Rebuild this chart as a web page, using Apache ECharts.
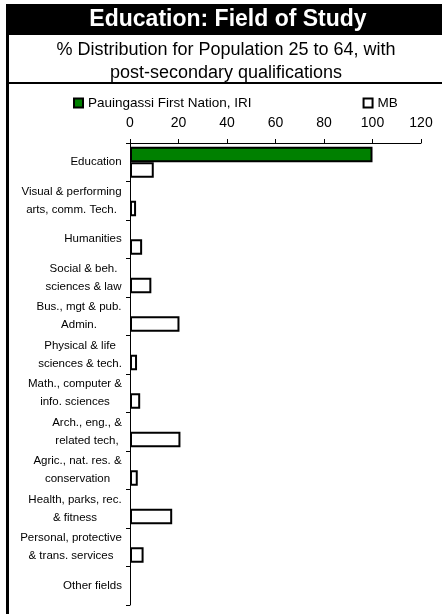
<!DOCTYPE html>
<html>
<head>
<meta charset="utf-8">
<script src="https://cdn.jsdelivr.net/npm/echarts@6/dist/echarts.min.js"></script>
<style>
html, body { margin: 0; padding: 0; background: #fff; }
#chart { width: 442px; height: 614px; }
</style>
</head>
<body>
<div id="chart"></div>
<script>
var categories = [
  'Education',
  'Visual & performing\narts, comm. Tech.',
  'Humanities',
  'Social & beh.\nsciences & law',
  'Bus., mgt & pub.\nAdmin.',
  'Physical & life\nsciences & tech.',
  'Math., computer &\ninfo. sciences',
  'Arch., eng., &\nrelated tech,',
  'Agric., nat. res. &\nconservation',
  'Health, parks, rec.\n& fitness',
  'Personal, protective\n& trans. services',
  'Other fields'
];
var seriesNames = ['Pauingassi First Nation, IRI', 'MB'];
var pauingassi = [100, 0, 0, 0, 0, 0, 0, 0, 0, 0, 0, 0];
var mb = [9.8, 2.5, 5, 8.8, 20.4, 2.9, 4.2, 20.8, 3.2, 17.4, 5.6, 0];
var xTicks = [0, 20, 40, 60, 80, 100, 120];

var FONT = "'Liberation Sans', Arial, sans-serif";
var LABEL_SIZE = 11.5;

// zero bars are left out so their borders don't thicken the axis line
function noZero(arr) {
  return arr.map(function (v) { return v === 0 ? '-' : v; });
}

// measure each label so two-line labels get centred lines inside a right-aligned block
var ctx = document.createElement('canvas').getContext('2d');
ctx.font = LABEL_SIZE + 'px ' + FONT;
var rich = {};
for (var i = 0; i < categories.length; i++) {
  var w = 0;
  var lines = categories[i].split('\n');
  for (var j = 0; j < lines.length; j++) {
    w = Math.max(w, ctx.measureText(lines[j]).width);
  }
  rich['c' + i] = {
    width: Math.ceil(w),
    align: 'center',
    fontSize: LABEL_SIZE,
    fontFamily: FONT,
    color: '#000',
    lineHeight: 18
  };
}

var chart = echarts.init(document.getElementById('chart'));
var option = {
  animation: false,
  backgroundColor: '#fff',
  graphic: [
    { type: 'rect', shape: { x: 6, y: 4, width: 436, height: 31 }, style: { fill: '#000' } },
    { type: 'rect', shape: { x: 6, y: 4, width: 3, height: 610 }, style: { fill: '#000' } },
    { type: 'rect', shape: { x: 6, y: 82, width: 436, height: 2 }, style: { fill: '#000' } },
    {
      type: 'text',
      style: {
        text: 'Education: Field of Study', x: 228, y: 20,
        textAlign: 'center', textVerticalAlign: 'middle',
        fill: '#fff', font: 'bold 23px ' + FONT
      }
    },
    {
      type: 'text',
      style: {
        text: '% Distribution for Population 25 to 64, with', x: 226, y: 50,
        textAlign: 'center', textVerticalAlign: 'middle',
        fill: '#000', font: '18px ' + FONT
      }
    },
    {
      type: 'text',
      style: {
        text: 'post-secondary qualifications', x: 226, y: 73,
        textAlign: 'center', textVerticalAlign: 'middle',
        fill: '#000', font: '18px ' + FONT
      }
    }
  ],
  legend: {
    data: seriesNames,
    icon: 'rect',
    itemWidth: 9,
    itemHeight: 9,
    left: 68,
    top: 91,
    itemGap: 111,
    textStyle: { fontSize: 13.5, fontFamily: FONT, color: '#000' }
  },
  grid: { left: 130, right: 21, top: 143, bottom: 9 },
  xAxis: {
    type: 'value',
    position: 'top',
    min: xTicks[0],
    max: xTicks[xTicks.length - 1],
    interval: xTicks[1] - xTicks[0],
    axisLine: { show: true, lineStyle: { color: '#000', width: 1 } },
    axisTick: { show: true, length: 4, lineStyle: { color: '#000' } },
    splitLine: { show: false },
    axisLabel: { fontSize: 14, fontFamily: FONT, color: '#000', margin: 13 }
  },
  yAxis: {
    type: 'category',
    data: categories,
    inverse: true,
    axisLine: { show: true, lineStyle: { color: '#000', width: 1 } },
    axisTick: { show: true, length: 4, lineStyle: { color: '#000' } },
    axisLabel: {
      margin: 8,
      rich: rich,
      formatter: function (value, index) {
        return value.split('\n').map(function (l) {
          return '{c' + index + '|' + l + '}';
        }).join('\n');
      }
    }
  },
  series: [
    {
      name: seriesNames[0],
      type: 'bar',
      data: noZero(pauingassi),
      barGap: '0%',
      barCategoryGap: '20%',
      itemStyle: { color: '#008000', borderColor: '#000', borderWidth: 2 }
    },
    {
      name: seriesNames[1],
      type: 'bar',
      data: noZero(mb),
      barGap: '0%',
      barCategoryGap: '20%',
      itemStyle: { color: '#fff', borderColor: '#000', borderWidth: 2 }
    }
  ]
};
chart.setOption(option);
</script>
</body>
</html>
